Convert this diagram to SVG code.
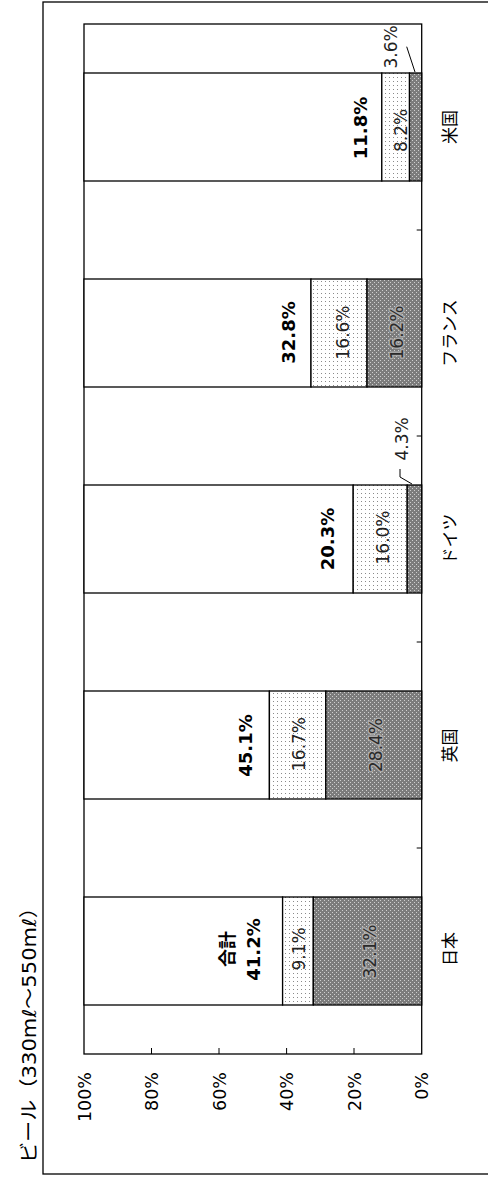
<svg xmlns="http://www.w3.org/2000/svg" width="488" height="1181" viewBox="0 0 488 1181">
<style>
.frame{fill:#fff;stroke:#000;stroke-width:1.3}
.plot{fill:#fff;stroke:#000;stroke-width:1.3}
.seg{stroke:#000;stroke-width:1.3}
.w{fill:#fff}
.lt{fill:url(#light)}
.dk{fill:url(#dark)}
.tick{stroke:#000;stroke-width:1}
.lead{stroke:#000;stroke-width:1;fill:none}
text{font-family:"DejaVu Sans","Noto Sans CJK JP",sans-serif;fill:#000}
.ax{font-size:17.5px;text-anchor:end}
.cat{font-family:"Noto Sans CJK JP",sans-serif;font-size:17px;text-anchor:middle}
.val{font-size:17px;text-anchor:middle;fill:#222}
.dv{font-size:17px;text-anchor:middle;fill:#2a2a2a;stroke:#a8a8a8;stroke-width:3;paint-order:stroke;stroke-linejoin:round}
.bold{font-size:18px;font-weight:bold;text-anchor:middle}
.jb{font-family:"Noto Sans CJK JP",sans-serif}
.title{font-size:19px}
</style>
<defs>
<pattern id="light" width="4" height="4" patternUnits="userSpaceOnUse">
<rect width="4" height="4" fill="#fff"/>
<rect x="1" y="1" width="1" height="1" fill="#8a8a8a"/>
</pattern>
<pattern id="dark" width="4" height="4" patternUnits="userSpaceOnUse">
<rect width="4" height="4" fill="#7c7c7c"/>
<rect x="0" y="0" width="1" height="1" fill="#cfcfcf"/>
<rect x="2" y="2" width="1" height="1" fill="#cfcfcf"/>
</pattern>
</defs>
<rect class="frame" x="43" y="2" width="460" height="1172"/>
<text class="title" transform="translate(36,1163) rotate(-90)" textLength="266" lengthAdjust="spacingAndGlyphs">ビール（330mℓ～550mℓ）</text>
<g id="plot-area">
<rect class="plot" x="84" y="24" width="337.7" height="1030"/>
</g>
<g id="axes">
<line class="tick" x1="151.5" y1="1048" x2="151.5" y2="1054"/>
<line class="tick" x1="219" y1="1048" x2="219" y2="1054"/>
<line class="tick" x1="286.6" y1="1048" x2="286.6" y2="1054"/>
<line class="tick" x1="354" y1="1048" x2="354" y2="1054"/>
<line class="tick" x1="416.7" y1="848" x2="421.7" y2="848"/>
<line class="tick" x1="416.7" y1="642" x2="421.7" y2="642"/>
<line class="tick" x1="416.7" y1="436" x2="421.7" y2="436"/>
<line class="tick" x1="416.7" y1="230" x2="421.7" y2="230"/>
<text class="ax" transform="translate(90.5,1072) rotate(-90)">100%</text>
<text class="ax" transform="translate(158,1072) rotate(-90)">80%</text>
<text class="ax" transform="translate(225.5,1072) rotate(-90)">60%</text>
<text class="ax" transform="translate(293,1072) rotate(-90)">40%</text>
<text class="ax" transform="translate(360.5,1072) rotate(-90)">20%</text>
<text class="ax" transform="translate(428.2,1072) rotate(-90)">0%</text>
<text class="cat" transform="translate(456,949) rotate(-90)">日本</text>
<text class="cat" transform="translate(456,745.5) rotate(-90)">英国</text>
<text class="cat" transform="translate(456,539) rotate(-90)">ドイツ</text>
<text class="cat" transform="translate(456,333) rotate(-90)">フランス</text>
<text class="cat" transform="translate(456,127) rotate(-90)">米国</text>
</g>
<g id="bar-japan">
<rect class="seg w" x="84" y="897" width="198.6" height="108"/>
<rect class="seg lt" x="282.6" y="897" width="30.7" height="108"/>
<rect class="seg dk" x="313.3" y="897" width="108.4" height="108"/>
<text class="bold jb" transform="translate(233.5,949) rotate(-90)">合計</text>
<text class="bold" transform="translate(260,949.5) rotate(-90)">41.2%</text>
<text class="val" transform="translate(304.5,949) rotate(-90)">9.1%</text>
<text class="dv" transform="translate(375.5,951.5) rotate(-90)">32.1%</text>
</g>
<g id="bar-uk">
<rect class="seg w" x="84" y="691" width="185.4" height="108"/>
<rect class="seg lt" x="269.4" y="691" width="56.4" height="108"/>
<rect class="seg dk" x="325.8" y="691" width="95.9" height="108"/>
<text class="bold" transform="translate(251.5,745.5) rotate(-90)">45.1%</text>
<text class="val" transform="translate(304.5,744) rotate(-90)">16.7%</text>
<text class="dv" transform="translate(382,745) rotate(-90)">28.4%</text>
</g>
<g id="bar-germany">
<rect class="seg w" x="84" y="485" width="269.2" height="108"/>
<rect class="seg lt" x="353.2" y="485" width="54" height="108"/>
<rect class="seg dk" x="407.2" y="485" width="14.5" height="108"/>
<text class="bold" transform="translate(334,539) rotate(-90)">20.3%</text>
<text class="val" transform="translate(389,537.5) rotate(-90)">16.0%</text>
<text class="val" transform="translate(408.3,439) rotate(-90)">4.3%</text>
</g>
<g id="bar-france">
<rect class="seg w" x="84" y="279" width="227" height="108"/>
<rect class="seg lt" x="311" y="279" width="56" height="108"/>
<rect class="seg dk" x="367" y="279" width="54.7" height="108"/>
<text class="bold" transform="translate(294.5,332.5) rotate(-90)">32.8%</text>
<text class="val" transform="translate(349,332.5) rotate(-90)">16.6%</text>
<text class="dv" transform="translate(403,332.5) rotate(-90)">16.2%</text>
</g>
<g id="bar-us">
<rect class="seg w" x="84" y="73" width="297.8" height="108"/>
<rect class="seg lt" x="381.8" y="73" width="27.7" height="108"/>
<rect class="seg dk" x="409.5" y="73" width="12.2" height="108"/>
<text class="bold" transform="translate(367,128) rotate(-90)">11.8%</text>
<text class="val" transform="translate(406.5,130.5) rotate(-90)">8.2%</text>
<text class="val" transform="translate(396.7,47) rotate(-90)">3.6%</text>
</g>
<g id="connectors">
<polyline class="lead" points="400,469 400,477 412,484"/>
<line class="lead" x1="406.7" y1="46.7" x2="415" y2="72"/>
</g>
</svg>
